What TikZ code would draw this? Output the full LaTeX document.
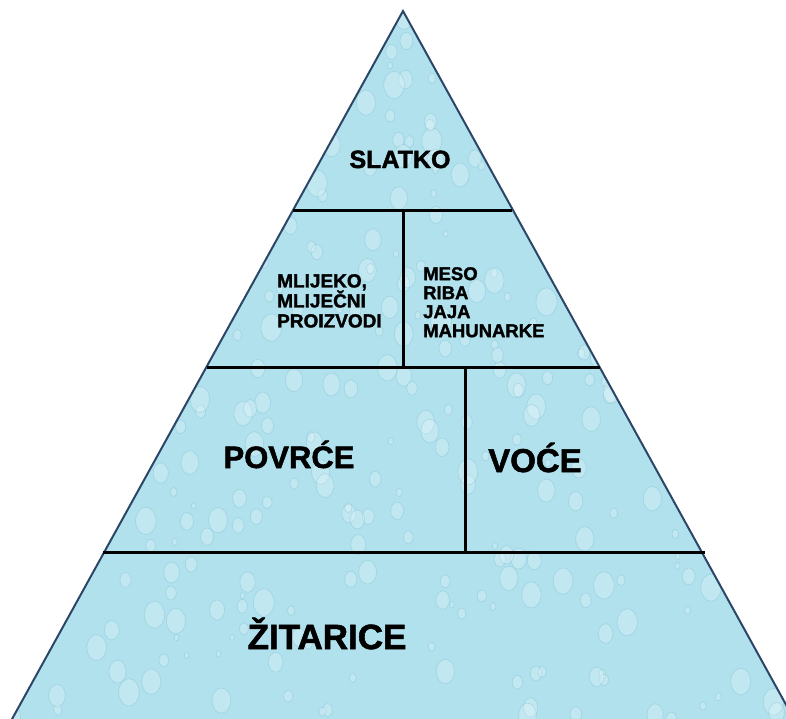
\documentclass[tikz,border=0pt]{standalone}
\usepackage{fontspec}
\setmainfont{Liberation Sans}
\newfontfamily\heavy[FakeBold=1.6]{Liberation Sans Bold}
\usetikzlibrary{positioning}
\definecolor{water}{RGB}{176,225,237}
\definecolor{waterdark}{RGB}{110,180,205}
\definecolor{edge}{RGB}{44,70,104}

\begin{document}
\begin{tikzpicture}[
    x=1pt, y=-1pt,
    pyr/.style={draw=edge, line width=2pt, line join=miter},
    divider/.style={draw=black, line width=3pt},
    tier/.style={font=\heavy, inner sep=0pt, anchor=base},
    small/.style={font=\fontsize{19}{20}\selectfont\heavy, inner sep=0pt,
                  anchor=north west, align=left},
    drop/.style={draw=waterdark, fill=white, fill opacity=0.22, draw opacity=0.3,
                 line width=0.7pt}
  ]
  \useasboundingbox (0,0) rectangle (786,718);
  \clip (0,0) rectangle (786,718);

  % Pyramid outline
  \coordinate (apex) at (403,11);
  \coordinate (lb) at (6,730);
  \coordinate (rb) at (800,730);
  \fill[water] (apex) -- (lb) -- (rb) -- cycle;

  % Water drops texture
  \begin{scope}
    \clip (apex) -- (lb) -- (rb) -- cycle;
    \pgfmathsetseed{11}
    \foreach \i in {1,...,420} {
      \pgfmathsetmacro\px{rnd*786}
      \pgfmathsetmacro\py{rnd*720}
      \pgfmathsetmacro\pr{3+rnd*11}
      \draw[drop] (\px,\py) ellipse ({\pr*0.75} and \pr);
    }
  \end{scope}
  \draw[pyr] (apex) -- (lb) -- (rb) -- cycle;

  % Dividers
  \coordinate (l1) at (293,210);
  \coordinate (r1) at (512,210);
  \coordinate (l2) at (207,367);
  \coordinate (r2) at (600,367);
  \coordinate (l3) at (103,552);
  \coordinate (r3) at (705,552);
  \coordinate (m1) at (403,210);
  \coordinate (m2) at (403,367);
  \coordinate (v1) at (465,367);
  \coordinate (v2) at (465,552);
  \draw[divider] (l1) -- (r1);
  \draw[divider] (l2) -- (r2);
  \draw[divider] (l3) -- (r3);
  \draw[divider] (m1) -- (m2);
  \draw[divider] (v1) -- (v2);

  % Tiers
  \node[tier, font=\fontsize{25}{28}\selectfont\heavy] (slatko) at (400,168) {SLATKO};
  \node[small] (mlijeko) at (277,274) {MLIJEKO,\\MLIJEČNI\\PROIZVODI};
  \node[small, font=\fontsize{18.5}{19}\selectfont\heavy] (meso) at (423,267) {MESO\\RIBA\\JAJA\\MAHUNARKE};
  \node[tier, font=\fontsize{31}{34}\selectfont\heavy] (povrce) at (289,468) {POVRĆE};
  \node[tier, font=\fontsize{33}{36}\selectfont\heavy] (voce) at (535,472) {VOĆE};
  \node[tier, font=\fontsize{35}{38}\selectfont\heavy] (zitarice) at (327,649) {ŽITARICE};
\end{tikzpicture}
\end{document}
